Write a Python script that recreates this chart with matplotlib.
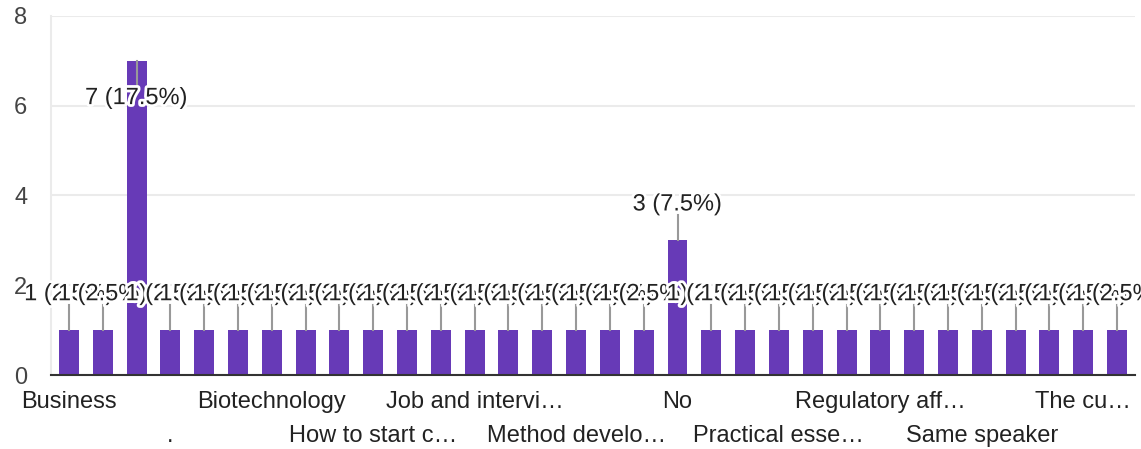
import matplotlib.pyplot as plt
import matplotlib.patheffects as pe

# answer counts per category (Google Forms style summary, 40 responses)
categories = ["Business", "", "", ".", "", "", "Biotechnology", "", "",
              "How to start c\u2026", "", "", "Job and intervi\u2026", "", "",
              "Method develo\u2026", "", "", "No", "", "",
              "Practical esse\u2026", "", "", "Regulatory aff\u2026", "", "",
              "Same speaker", "", "", "The cu\u2026", ""]
counts = [1, 1, 7, 1, 1, 1, 1, 1, 1, 1, 1, 1, 1, 1, 1, 1,
          1, 1, 3, 1, 1, 1, 1, 1, 1, 1, 1, 1, 1, 1, 1, 1]
total = sum(counts)
yticks = [0, 2, 4, 6, 8]

plt.rcParams['font.family'] = ['Liberation Sans', 'DejaVu Sans']

fig = plt.figure(figsize=(11.41, 4.49), dpi=100)
ax = fig.add_axes([0.0447, 0.1648, 0.95, 0.7996])

x = list(range(len(counts)))
ax.bar(x, counts, width=0.59, color="#673ab7", zorder=3)

ax.set_xlim(-0.53, len(counts) - 0.47)
ax.set_ylim(0, 8)
ax.set_yticks(yticks)
ax.set_yticklabels([str(t) for t in yticks], fontsize=17, color="#444444")
ax.tick_params(axis='y', length=0, pad=17)
ax.set_xticks([])
ax.grid(axis='y', color="#ebebeb", linewidth=1.5, zorder=0)
ax.spines['top'].set_visible(False)
ax.spines['right'].set_visible(False)
ax.spines['left'].set_color("#ebebeb")
ax.spines['left'].set_linewidth(1.5)
ax.spines['bottom'].set_color("#333333")
ax.spines['bottom'].set_linewidth(1.5)
ax.spines['bottom'].set_zorder(4)

# category labels, staggered on two rows
for i, name in enumerate(categories):
    if not name:
        continue
    row = (i // 3) % 2
    ax.text(i, -0.075 - 0.095 * row, name, transform=ax.get_xaxis_transform(),
            ha='center', va='center', fontsize=17, color="#222222", clip_on=False)

# value labels with leader lines
halo = [pe.withStroke(linewidth=4, foreground="white")]
for i, v in enumerate(counts):
    txt = f"{v} ({v / total * 100:g}%)"
    if v + 1.0 > ax.get_ylim()[1] - 0.5:
        ax.plot([i, i], [v, v - 0.54], color="#999999", lw=1.5, zorder=4)
        ty = v - 0.83
    else:
        ax.plot([i, i], [v, v + 0.56], color="#999999", lw=1.5, zorder=4)
        ty = v + 0.8
    ax.text(i, ty, txt, ha='center', va='center', fontsize=17,
            color="#222222", path_effects=halo, zorder=5, clip_on=False)

fig.savefig("out.png", dpi=100)
